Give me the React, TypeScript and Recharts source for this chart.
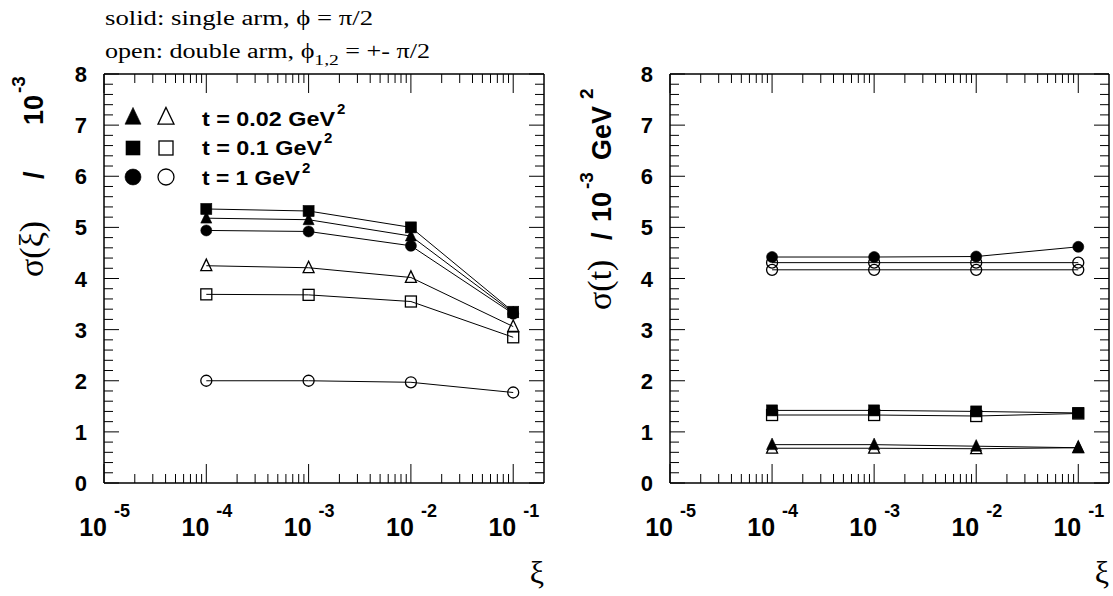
import React from "react";
import { LineChart, Line, XAxis, YAxis } from "recharts";

const SANS = "'Liberation Sans', Arial, Helvetica, sans-serif";
const SERIF = "'Liberation Serif', 'Times New Roman', serif";

// xi of the four measured points
const xiPoints = [1e-4, 1e-3, 1e-2, 1e-1];

// left panel: sigma(xi) / 10^-3  (solid = single arm, open = double arm)
const xiSolidT002 = [5.18, 5.15, 4.83, 3.33];
const xiSolidT01 = [5.36, 5.32, 5.0, 3.35];
const xiSolidT1 = [4.94, 4.92, 4.64, 3.31];
const xiOpenT002 = [4.25, 4.21, 4.02, 3.06];
const xiOpenT01 = [3.69, 3.68, 3.55, 2.85];
const xiOpenT1 = [2.0, 2.0, 1.97, 1.77];

// right panel: sigma(t) / 10^-3 GeV^2
const tSolidT002 = [0.75, 0.75, 0.72, 0.69];
const tSolidT01 = [1.42, 1.42, 1.4, 1.37];
const tSolidT1 = [4.42, 4.42, 4.43, 4.62];
const tOpenT002 = [0.68, 0.68, 0.67, 0.69];
const tOpenT01 = [1.33, 1.33, 1.31, 1.36];
const tOpenT1 = [4.17, 4.17, 4.17, 4.17];
const tOpenT1b = [4.31, 4.31, 4.31, 4.31];

// axes
const xDecades = [-5, -4, -3, -2, -1];
const xMinorMult = [2, 3, 4, 5, 6, 7, 8, 9];
const yLabels = [0, 1, 2, 3, 4, 5, 6, 7, 8];
const yMinorSteps = [0.2, 0.4, 0.6, 0.8];

const legendRows = [
  { shape: "tri", label: "t = 0.02 GeV", len: 133 },
  { shape: "sq", label: "t = 0.1 GeV", len: 120 },
  { shape: "circ", label: "t = 1 GeV", len: 98 },
];

const xTicks: number[] = [];
xDecades.forEach((d) => {
  xTicks.push(10 ** d);
  if (d < -1) xMinorMult.forEach((m) => xTicks.push(m * 10 ** d));
});
xTicks.sort((a, b) => a - b);

const yTicks: number[] = [];
yLabels.forEach((v) => {
  yTicks.push(v);
  if (v < 8) yMinorSteps.forEach((f) => yTicks.push(v + f));
});

type Shape = "tri" | "sq" | "circ";
interface SeriesDef {
  key: string;
  values: number[];
  shape: Shape;
  filled: boolean;
}

const leftSeries: SeriesDef[] = [
  { key: "oT1", values: xiOpenT1, shape: "circ", filled: false },
  { key: "oT01", values: xiOpenT01, shape: "sq", filled: false },
  { key: "oT002", values: xiOpenT002, shape: "tri", filled: false },
  { key: "sT1", values: xiSolidT1, shape: "circ", filled: true },
  { key: "sT002", values: xiSolidT002, shape: "tri", filled: true },
  { key: "sT01", values: xiSolidT01, shape: "sq", filled: true },
];

const rightSeries: SeriesDef[] = [
  { key: "oT002", values: tOpenT002, shape: "tri", filled: false },
  { key: "sT002", values: tSolidT002, shape: "tri", filled: true },
  { key: "oT01", values: tOpenT01, shape: "sq", filled: false },
  { key: "sT01", values: tSolidT01, shape: "sq", filled: true },
  { key: "oT1", values: tOpenT1, shape: "circ", filled: false },
  { key: "oT1b", values: tOpenT1b, shape: "circ", filled: false },
  { key: "sT1", values: tSolidT1, shape: "circ", filled: true },
];

const buildRows = (series: SeriesDef[]) =>
  xiPoints.map((xi, i) => {
    const row: Record<string, number> = { xi };
    series.forEach((s) => (row[s.key] = s.values[i]));
    return row;
  });

function Marker({ cx, cy, shape, filled, size }: { cx: number; cy: number; shape: Shape; filled: boolean; size: number }) {
  const fill = filled ? "#000" : "none";
  const sw = filled ? 0.6 : 1.3;
  const h = size / 2;
  if (shape === "sq")
    return <rect x={cx - h} y={cy - h} width={size} height={size} fill={fill} stroke="#000" strokeWidth={sw} />;
  if (shape === "circ") return <circle cx={cx} cy={cy} r={h} fill={fill} stroke="#000" strokeWidth={sw} />;
  return (
    <polygon
      points={`${cx},${cy - size * 0.6} ${cx - h},${cy + size * 0.45} ${cx + h},${cy + size * 0.45}`}
      fill={fill}
      stroke="#000"
      strokeWidth={sw}
    />
  );
}

const isDecade = (v: number) => Math.abs(Math.log10(v) - Math.round(Math.log10(v))) < 1e-6;

const renderXTick = (side: "top" | "bottom") => (props: any) => {
  const { x, y, payload } = props;
  const v = payload.value as number;
  const major = isDecade(v);
  const len = major ? 19 : 9;
  const dir = side === "bottom" ? -1 : 1;
  const exp = Math.round(Math.log10(v));
  return (
    <g>
      <line x1={x} x2={x} y1={y} y2={y + dir * len} stroke="#000" strokeWidth={1} />
      {major && side === "bottom" && (
        <>
          <text x={x + 3} y={y + 53} textAnchor="end" fontFamily={SANS} fontWeight="bold" fontSize={25} fill="#000">
            10
          </text>
          <text x={x + 10} y={y + 34} textAnchor="start" fontFamily={SANS} fontWeight="bold" fontSize={18} fill="#000">
            {exp}
          </text>
        </>
      )}
    </g>
  );
};

const renderYTick = (side: "left" | "right") => (props: any) => {
  const { x, y, payload } = props;
  const v = payload.value as number;
  const major = Math.abs(v - Math.round(v)) < 1e-6;
  const len = major ? 15 : 9;
  const dir = side === "left" ? 1 : -1;
  return (
    <g>
      <line x1={x} x2={x + dir * len} y1={y} y2={y} stroke="#000" strokeWidth={1} />
      {major && side === "left" && (
        <text x={x - 17} y={y + 8} textAnchor="end" fontFamily={SANS} fontWeight="bold" fontSize={22} fill="#000">
          {Math.round(v)}
        </text>
      )}
    </g>
  );
};

const AXIS = { stroke: "#000", strokeWidth: 1.5 };
const AX = 2; // thickness reserved for each axis

function Panel({ left, width, plotLeft, plotRight, series }: { left: number; width: number; plotLeft: number; plotRight: number; series: SeriesDef[] }) {
  const rows = buildRows(series);
  return (
    <div style={{ position: "absolute", left, top: 0 }}>
      <LineChart
        width={width}
        height={596}
        data={rows}
        margin={{ top: 74 - AX, left: plotLeft - AX, right: width - plotRight - AX, bottom: 596 - 483 - AX }}
      >
        <XAxis xAxisId="b" dataKey="xi" type="number" scale="log" domain={[1e-5, 0.2]} allowDataOverflow ticks={xTicks} interval={0} height={AX} tickSize={0} tickMargin={0} tickLine={false} axisLine={AXIS} tick={renderXTick("bottom")} />
        <XAxis xAxisId="t" orientation="top" dataKey="xi" type="number" scale="log" domain={[1e-5, 0.2]} allowDataOverflow ticks={xTicks} interval={0} height={AX} tickSize={0} tickMargin={0} tickLine={false} axisLine={AXIS} tick={renderXTick("top")} />
        <YAxis yAxisId="l" type="number" domain={[0, 8]} allowDataOverflow ticks={yTicks} interval={0} width={AX} tickSize={0} tickMargin={0} tickLine={false} axisLine={AXIS} tick={renderYTick("left")} />
        <YAxis yAxisId="r" orientation="right" type="number" domain={[0, 8]} allowDataOverflow ticks={yTicks} interval={0} width={AX} tickSize={0} tickMargin={0} tickLine={false} axisLine={AXIS} tick={renderYTick("right")} />
        {series.map((s) => (
          <Line
            key={s.key}
            xAxisId="b"
            yAxisId="l"
            dataKey={s.key}
            type="linear"
            stroke="#000"
            strokeWidth={1}
            isAnimationActive={false}
            activeDot={false}
            dot={(p: any) => <Marker key={`${s.key}-${p.index}`} cx={p.cx} cy={p.cy} shape={s.shape} filled={s.filled} size={11} />}
          />
        ))}
      </LineChart>
    </div>
  );
}

// rotated text piece starting at (x, y) and reading upwards
const VText = ({ x, y, size, serif, children }: { x: number; y: number; size: number; serif?: boolean; children: React.ReactNode }) => (
  <text
    transform={`translate(${x},${y}) rotate(-90)`}
    fontFamily={serif ? SERIF : SANS}
    fontWeight={serif ? "normal" : "bold"}
    fontSize={size}
  >
    {children}
  </text>
);

export default function App() {
  return (
    <div style={{ position: "absolute", left: 0, top: 0, width: 1113, height: 596, background: "#fff", overflow: "hidden" }}>
      <Panel left={0} width={560} plotLeft={104} plotRight={544} series={leftSeries} />
      <Panel left={560} width={553} plotLeft={110} plotRight={549} series={rightSeries} />
      <svg width={1113} height={596} style={{ position: "absolute", left: 0, top: 0, pointerEvents: "none" }}>
        {/* header */}
        <text x={105} y={25} fontFamily={SERIF} fontSize={20} textLength={268} lengthAdjust="spacingAndGlyphs">
          solid: single arm, ϕ = π/2
        </text>
        <text x={105} y={58} fontFamily={SERIF} fontSize={20} textLength={325} lengthAdjust="spacingAndGlyphs">
          open: double arm, ϕ
          <tspan fontSize={15} dy={7}>1,2</tspan>
          <tspan dy={-7}> = +- π/2</tspan>
        </text>

        {/* legend */}
        {legendRows.map((r, i) => {
          const cy = [117, 148, 177][i];
          const base = [126, 155, 185][i];
          return (
            <g key={r.label}>
              <Marker cx={133} cy={cy} shape={r.shape as Shape} filled size={r.shape === "sq" ? 14 : 16} />
              <Marker cx={166} cy={cy} shape={r.shape as Shape} filled={false} size={r.shape === "sq" ? 14 : 16} />
              <text x={202} y={base} fontFamily={SANS} fontWeight="bold" fontSize={21} textLength={r.len} lengthAdjust="spacingAndGlyphs">
                {r.label}
              </text>
              <text x={202 + r.len + 2} y={base - 12} fontFamily={SANS} fontWeight="bold" fontSize={15}>
                2
              </text>
            </g>
          );
        })}

        {/* y title, left */}
        <VText x={43} y={277} size={34} serif>σ(ξ)</VText>
        <VText x={43} y={179} size={27}>/</VText>
        <VText x={43} y={125} size={27}>10</VText>
        <VText x={25} y={93} size={19}>-3</VText>

        {/* y title, right */}
        <VText x={611} y={310} size={34} serif>σ(t)</VText>
        <VText x={611} y={240} size={27}>/</VText>
        <VText x={611} y={222} size={27}>10</VText>
        <VText x={593} y={189} size={19}>-3</VText>
        <VText x={611} y={160} size={27}>GeV</VText>
        <VText x={593} y={99} size={19}>2</VText>

        {/* x titles */}
        <text x={544} y={583} textAnchor="end" fontFamily={SERIF} fontSize={32}>ξ</text>
        <text x={1109} y={583} textAnchor="end" fontFamily={SERIF} fontSize={32}>ξ</text>
      </svg>
    </div>
  );
}
